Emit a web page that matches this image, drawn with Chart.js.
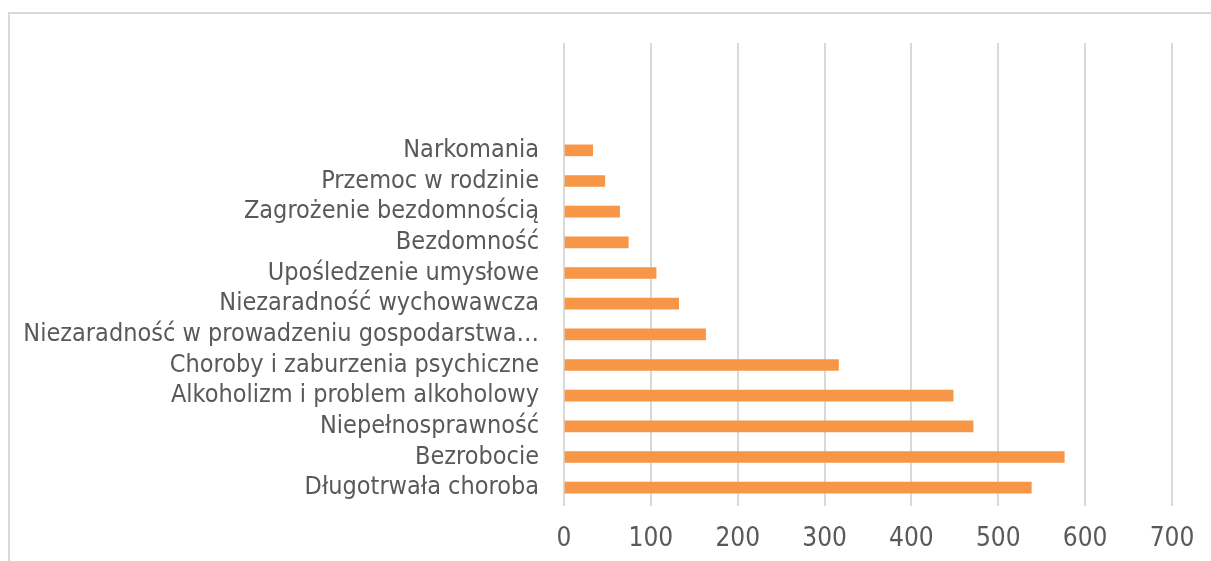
<!DOCTYPE html>
<html>
<head>
<meta charset="utf-8">
<script src="https://cdn.jsdelivr.net/npm/chart.js@4/dist/chart.umd.min.js"></script>
<style>
    html, body { margin: 0; padding: 0; background: #fff; overflow: hidden; }
    #frame {
        position: absolute; left: 8px; top: 12px;
        width: 1400px; height: 800px;
        border: 2px solid #d9d9d9;
    }
    #chart { position: absolute; left: 0; top: 0; }
</style>
</head>
<body>
<div id="frame"></div>
<canvas id="chart" width="1211" height="561"></canvas>
<script>
// categories, bottom to top (as they appear in the chart)
const categories = [
    'Długotrwała choroba',
    'Bezrobocie',
    'Niepełnosprawność',
    'Alkoholizm i problem alkoholowy',
    'Choroby i zaburzenia psychiczne',
    'Niezaradność w prowadzeniu gospodarstwa…',
    'Niezaradność wychowawcza',
    'Upośledzenie umysłowe',
    'Bezdomność',
    'Zagrożenie bezdomnością',
    'Przemoc w rodzinie',
    'Narkomania'
];
const values = [538, 576, 471, 448, 316, 163, 132, 106, 74, 64, 47, 33];
const xTicks = [0, 100, 200, 300, 400, 500, 600, 700];

const textColor = '#595959';
const gridColor = '#d9d9d9';
const yFont = { family: 'DejaVu Sans Condensed', size: 25 };
const xFont = { family: 'DejaVu Sans Condensed', size: 26 };

const chartInstance = new Chart(document.getElementById('chart'), {
    type: 'bar',
    data: {
        datasets: [{
            data: values.map((v, i) => ({ x: v, y: i })),
            backgroundColor: '#f79646',
            borderWidth: 0,
            barThickness: 11
        }]
    },
    options: {
        indexAxis: 'y',
        responsive: false,
        animation: false,
        layout: { padding: { top: 43, right: 39, left: 0, bottom: 0 } },
        plugins: {
            legend: { display: false },
            tooltip: { enabled: false }
        },
        scales: {
            x: {
                type: 'linear',
                min: xTicks[0],
                max: xTicks[xTicks.length - 1],
                afterBuildTicks: (scale) => { scale.ticks = xTicks.map(v => ({ value: v })); },
                grid: { color: gridColor, lineWidth: 2, tickLength: 3 },
                border: { display: false },
                ticks: { color: textColor, font: xFont, padding: 18, maxRotation: 0 },
                afterFit: (scale) => {
                    scale.height = 58;
                    scale.paddingLeft = 0;
                    scale.paddingRight = 0;
                }
            },
            y: {
                type: 'linear',
                offset: false,
                min: -0.5,
                max: 14.5,
                afterBuildTicks: (scale) => { scale.ticks = categories.map((c, i) => ({ value: i })); },
                grid: { display: false, drawTicks: false, offset: false },
                border: { display: false },
                ticks: {
                    autoSkip: false,
                    color: textColor,
                    font: yFont,
                    padding: 25,
                    callback: (v) => categories[v] ?? ''
                },
                afterFit: (scale) => {
                    scale.width = 564;
                    scale.paddingTop = 0;
                    scale.paddingBottom = 0;
                }
            }
        }
    }
});
</script>
</body>
</html>
